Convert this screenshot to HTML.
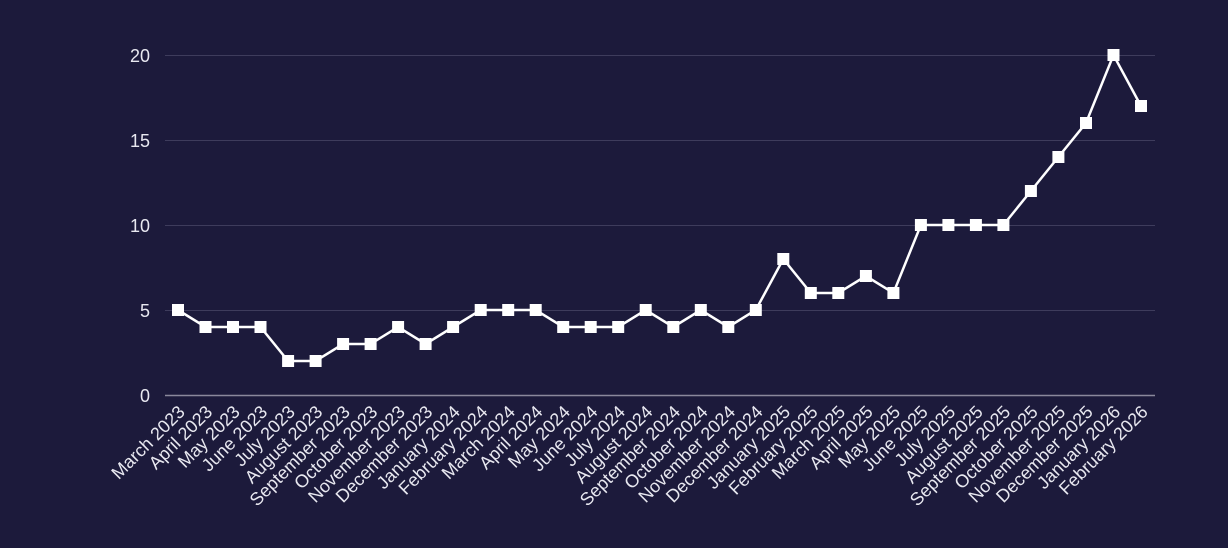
<!DOCTYPE html>
<html><head><style>body{margin:0;background:#1c1a3b}svg{display:block}</style></head><body>
<svg width="1228" height="548" xmlns="http://www.w3.org/2000/svg" font-family="Liberation Sans, sans-serif">
<rect width="1228" height="548" fill="#1c1a3b"/>
<g stroke="#3e3c5c" stroke-width="1">
<line x1="165" x2="1155" y1="55.5" y2="55.5"/><line x1="165" x2="1155" y1="140.5" y2="140.5"/><line x1="165" x2="1155" y1="225.5" y2="225.5"/><line x1="165" x2="1155" y1="310.5" y2="310.5"/>
</g>
<line x1="165" x2="1155" y1="395.5" y2="395.5" stroke="#8a889c" stroke-width="1.5"/>
<g fill="#e8e8f0" font-size="18" text-anchor="end">
<text x="150" y="62">20</text><text x="150" y="147">15</text><text x="150" y="232">10</text><text x="150" y="317">5</text><text x="150" y="402">0</text>
</g>
<polyline fill="none" stroke="#fff" stroke-width="2.5" points="178,310 205.5,327 233,327 260.5,327 288.1,361 315.6,361 343.1,344 370.6,344 398.1,327 425.6,344 453.1,327 480.7,310 508.2,310 535.7,310 563.2,327 590.7,327 618.2,327 645.7,310 673.3,327 700.8,310 728.3,327 755.8,310 783.3,259 810.8,293 838.3,293 865.9,276 893.4,293 920.9,225 948.4,225 975.9,225 1003.4,225 1030.9,191 1058.4,157 1086,123 1113.5,55 1141,106"/>
<g fill="#fff">
<rect x="172" y="304" width="12" height="12"/><rect x="199.5" y="321" width="12" height="12"/><rect x="227" y="321" width="12" height="12"/><rect x="254.5" y="321" width="12" height="12"/><rect x="282.1" y="355" width="12" height="12"/><rect x="309.6" y="355" width="12" height="12"/><rect x="337.1" y="338" width="12" height="12"/><rect x="364.6" y="338" width="12" height="12"/><rect x="392.1" y="321" width="12" height="12"/><rect x="419.6" y="338" width="12" height="12"/><rect x="447.1" y="321" width="12" height="12"/><rect x="474.7" y="304" width="12" height="12"/><rect x="502.2" y="304" width="12" height="12"/><rect x="529.7" y="304" width="12" height="12"/><rect x="557.2" y="321" width="12" height="12"/><rect x="584.7" y="321" width="12" height="12"/><rect x="612.2" y="321" width="12" height="12"/><rect x="639.7" y="304" width="12" height="12"/><rect x="667.3" y="321" width="12" height="12"/><rect x="694.8" y="304" width="12" height="12"/><rect x="722.3" y="321" width="12" height="12"/><rect x="749.8" y="304" width="12" height="12"/><rect x="777.3" y="253" width="12" height="12"/><rect x="804.8" y="287" width="12" height="12"/><rect x="832.3" y="287" width="12" height="12"/><rect x="859.9" y="270" width="12" height="12"/><rect x="887.4" y="287" width="12" height="12"/><rect x="914.9" y="219" width="12" height="12"/><rect x="942.4" y="219" width="12" height="12"/><rect x="969.9" y="219" width="12" height="12"/><rect x="997.4" y="219" width="12" height="12"/><rect x="1024.9" y="185" width="12" height="12"/><rect x="1052.4" y="151" width="12" height="12"/><rect x="1080" y="117" width="12" height="12"/><rect x="1107.5" y="49" width="12" height="12"/><rect x="1135" y="100" width="12" height="12"/>
</g>
<g fill="#e8e8f0" font-size="18" text-anchor="end">
<text transform="translate(186,413) rotate(-45)">March 2023</text>
<text transform="translate(213.5,413) rotate(-45)">April 2023</text>
<text transform="translate(241,413) rotate(-45)">May 2023</text>
<text transform="translate(268.5,413) rotate(-45)">June 2023</text>
<text transform="translate(296.1,413) rotate(-45)">July 2023</text>
<text transform="translate(323.6,413) rotate(-45)">August 2023</text>
<text transform="translate(351.1,413) rotate(-45)">September 2023</text>
<text transform="translate(378.6,413) rotate(-45)">October 2023</text>
<text transform="translate(406.1,413) rotate(-45)">November 2023</text>
<text transform="translate(433.6,413) rotate(-45)">December 2023</text>
<text transform="translate(461.1,413) rotate(-45)">January 2024</text>
<text transform="translate(488.7,413) rotate(-45)">February 2024</text>
<text transform="translate(516.2,413) rotate(-45)">March 2024</text>
<text transform="translate(543.7,413) rotate(-45)">April 2024</text>
<text transform="translate(571.2,413) rotate(-45)">May 2024</text>
<text transform="translate(598.7,413) rotate(-45)">June 2024</text>
<text transform="translate(626.2,413) rotate(-45)">July 2024</text>
<text transform="translate(653.7,413) rotate(-45)">August 2024</text>
<text transform="translate(681.3,413) rotate(-45)">September 2024</text>
<text transform="translate(708.8,413) rotate(-45)">October 2024</text>
<text transform="translate(736.3,413) rotate(-45)">November 2024</text>
<text transform="translate(763.8,413) rotate(-45)">December 2024</text>
<text transform="translate(791.3,413) rotate(-45)">January 2025</text>
<text transform="translate(818.8,413) rotate(-45)">February 2025</text>
<text transform="translate(846.3,413) rotate(-45)">March 2025</text>
<text transform="translate(873.9,413) rotate(-45)">April 2025</text>
<text transform="translate(901.4,413) rotate(-45)">May 2025</text>
<text transform="translate(928.9,413) rotate(-45)">June 2025</text>
<text transform="translate(956.4,413) rotate(-45)">July 2025</text>
<text transform="translate(983.9,413) rotate(-45)">August 2025</text>
<text transform="translate(1011.4,413) rotate(-45)">September 2025</text>
<text transform="translate(1038.9,413) rotate(-45)">October 2025</text>
<text transform="translate(1066.4,413) rotate(-45)">November 2025</text>
<text transform="translate(1094,413) rotate(-45)">December 2025</text>
<text transform="translate(1121.5,413) rotate(-45)">January 2026</text>
<text transform="translate(1149,413) rotate(-45)">February 2026</text>
</g>
</svg>
</body></html>
